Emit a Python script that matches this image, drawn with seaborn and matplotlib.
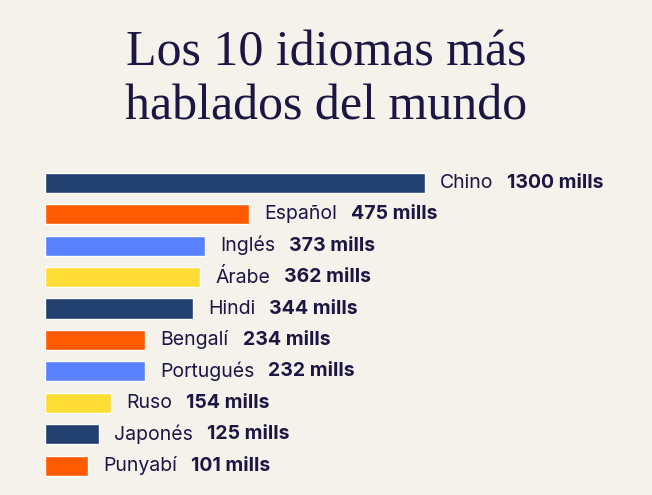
import numpy as np
import pandas as pd
import matplotlib
matplotlib.use("Agg")
import matplotlib.pyplot as plt
import seaborn as sns

# Data
languages = ["Chino", "Español", "Inglés", "Árabe", "Hindi",
             "Bengalí", "Portugués", "Ruso", "Japonés", "Punyabí"]
speakers = [1300, 475, 373, 362, 344, 234, 232, 154, 125, 101]  # millions
value_labels = ["1300 mills", "475 mills", "373 mills", "362 mills", "344 mills",
                "234 mills", "232 mills", "154 mills", "125 mills", "101 mills"]
palette_cycle = ["#22406f", "#ff5a00", "#5882ff", "#ffdd35"]

# The longest bar is drawn truncated (broken-scale infographic style)
DISPLAY_CAP = 885

BG = "#f5f2eb"
TEXT = "#1b1642"

sns.set_theme(style="white")
plt.rcParams["font.family"] = ["Inter", "DejaVu Sans"]

df = pd.DataFrame({
    "idioma": languages,
    "valor": speakers,
    "largo": np.minimum(speakers, DISPLAY_CAP),
})
colors = [palette_cycle[i % 4] for i in range(len(languages))]

fig = plt.figure(figsize=(6.52, 4.95), dpi=100, facecolor=BG)
ax = fig.add_axes([45 / 652, 0.0277, 575 / 652, 0.6345])
ax.set_facecolor(BG)

sns.barplot(data=df, y="idioma", x="largo", hue="idioma", palette=colors,
            legend=False, width=0.64, orient="h", ax=ax, saturation=1)

ax.set_xlim(0, 1340)
ax.set_ylim(len(languages) - 0.5, -0.5)
ax.set_xlabel("")
ax.set_ylabel("")
ax.set_xticks([])
ax.set_yticks([])
for s in ax.spines.values():
    s.set_visible(False)

for i, (L, lab) in enumerate(zip(df["largo"], value_labels)):
    t = ax.annotate(languages[i], xy=(L, i), xytext=(11, 0), textcoords="offset points",
                    va="center", ha="left", fontsize=14, color=TEXT)
    ax.annotate(lab, xy=(1, 0.5), xycoords=t, xytext=(10, 0), textcoords="offset points",
                va="center", ha="left", fontsize=14, fontweight="bold", color=TEXT)

title_font = ["Liberation Serif", "DejaVu Serif"]
fig.text(0.5, 1 - 65 / 495, "Los 10 idiomas más", ha="center", va="baseline",
         fontsize=36, color=TEXT, family=title_font)
fig.text(0.5, 1 - 120 / 495, "hablados del mundo", ha="center", va="baseline",
         fontsize=36, color=TEXT, family=title_font)

fig.savefig("out.png", dpi=100, facecolor=BG)
